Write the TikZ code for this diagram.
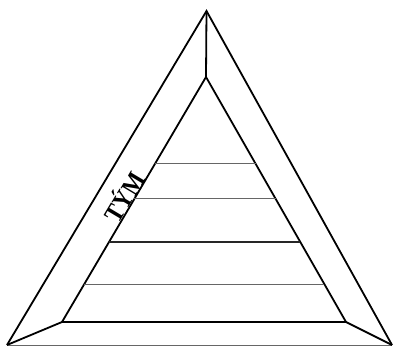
\documentclass[tikz,border=0pt]{standalone}
\usepackage{fontspec}
\setmainfont{Liberation Serif}
\begin{document}
\begin{tikzpicture}[x=1pt,y=-1pt,
  edge/.style={line width=1.8pt,line join=miter},
  thinline/.style={line width=1pt,draw=black!60},
  midline/.style={line width=1.2pt,draw=black!85}]
\useasboundingbox (0,0) rectangle (393,347);
\coordinate (oA) at (206.5,11);
\coordinate (oL) at (7,345);
\coordinate (oR) at (392,345);
\coordinate (iA) at (206,77);
\coordinate (iL) at (62,322);
\coordinate (iR) at (346,322);
% outer triangle sides
\draw[edge] (oL) -- (oA) -- (oR);
\draw[thinline] (oL) -- (oR);
% inner triangle
\draw[edge] (iL) -- (iA) -- (iR) -- cycle;
% connectors
\draw[edge] (oA) -- (iA);
\draw[edge] (oL) -- (iL);
\draw[edge] (oR) -- (iR);
% horizontal layers
\foreach \y/\s in {164/thinline,199/thinline,242/midline,284/thinline}{
  \path (iA) -- (iL) coordinate[pos={(\y-77)/245}] (l\y);
  \path (iA) -- (iR) coordinate[pos={(\y-77)/245}] (r\y);
  \draw[\s] (l\y) -- (r\y);
}
\node[rotate=59.3,xscale=0.88,font=\bfseries\fontsize{26}{26}\selectfont,inner sep=0pt] (tym) at (123,196) {TÝM};
\end{tikzpicture}
\end{document}
